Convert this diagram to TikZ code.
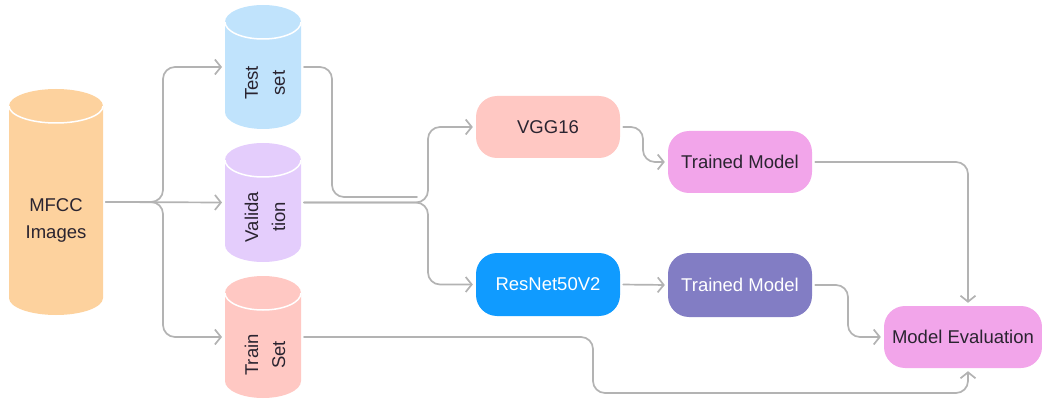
\documentclass[tikz,border=0pt]{standalone}
\usepackage{fontspec}
\setmainfont{Liberation Sans}
\usetikzlibrary{arrows.meta}

\definecolor{cMfcc}{HTML}{FDD29E}
\definecolor{cTest}{HTML}{C0E3FC}
\definecolor{cVal}{HTML}{E4CDFC}
\definecolor{cTrain}{HTML}{FFC8C3}
\definecolor{cVgg}{HTML}{FFC8C3}
\definecolor{cRes}{HTML}{109BFF}
\definecolor{cTm}{HTML}{F2A5EA}
\definecolor{cTmb}{HTML}{827DC4}
\definecolor{cLine}{HTML}{B3B3B3}
\definecolor{cInk}{HTML}{2A2430}

% database cylinder: name, centre x, top y, bottom y, half width, colour
\newcommand\dbcyl[6]{%
  \node[minimum width=2*#5, minimum height=#4-#3, inner sep=0pt, outer sep=0pt]
    (#1) at (#2,{(#3+#4)/2}) {};
  \fill[#6] ([yshift=-17pt]#1.north west) -- ([yshift=17pt]#1.south west)
    arc[start angle=180, end angle=360, x radius=#5pt, y radius=17pt]
    -- ([yshift=-17pt]#1.north east)
    arc[start angle=0, end angle=180, x radius=#5pt, y radius=17pt] -- cycle;
  \draw[white, line width=1.5pt] ([yshift=-17pt]#1.north west)
    arc[start angle=180, end angle=360, x radius=#5pt, y radius=17pt];
}

\tikzset{
  label text/.style={text=cInk, align=center, font=\fontsize{18.5}{27}\selectfont},
  cyltext/.style={label text, rotate=90},
  box/.style={rounded corners=21pt, minimum width=144pt, minimum height=62pt,
    inner sep=0pt, text=cInk, font=\fontsize{18.5}{27}\selectfont},
  conn/.style={draw=cLine, line width=1.7pt, rounded corners=12pt,
    shorten <=3pt, shorten >=3pt, line cap=round,
    -{Straight Barb[length=6pt, width=15pt]}},
  plain/.style={draw=cLine, line width=1.7pt, rounded corners=12pt,
    shorten <=3pt, line cap=round},
}

\begin{document}
\begin{tikzpicture}[x=1pt, y=-1pt]
\useasboundingbox (0,0) rectangle (1042,401);

% data stores
\dbcyl{mfcc}{56}{89}{315}{47}{cMfcc}
\node[label text] (mfcct) at (56,220) {MFCC\\Images};
\dbcyl{test}{263}{5}{129}{38}{cTest}
\node[cyltext] (testt) at (265,83) {Test\\set};
\dbcyl{val}{263}{143}{262}{38}{cVal}
\node[cyltext] (valt) at (265,217) {Valida\\tion};
\dbcyl{train}{263}{276}{398}{38}{cTrain}
\node[cyltext] (traint) at (265,355) {Train\\Set};

% models
\node[box, fill=cVgg] (vgg) at (548,127) {VGG16};
\node[box, fill=cRes, text=white, minimum height=63pt] (resnet) at (548,284.5) {ResNet50V2};
\node[box, fill=cTm] (tm1) at (740,162) {Trained Model};
\node[box, fill=cTmb, text=white, minimum height=64pt] (tm2) at (740,285) {Trained Model};
\node[box, fill=cTm, minimum width=158pt] (eval) at (963,337) {Model Evaluation};

\coordinate (tj) at (417,197);

% split of the data
\draw[conn] (mfcc.east) -- (163,202) |- (test.west);
\draw[conn] (mfcc.east) -- (val.west);
\draw[conn] (mfcc.east) -- (163,202) |- (train.west);

% validation and test data into the networks
\draw[plain] (test.east) -| (332,197) -- (tj);
\draw[conn] (val.east) -- (428,202.5) |- (vgg.west);
\draw[conn] (val.east) -- (428,202.5) |- (resnet.west);

% training
\draw[conn] (vgg.east) -- (643,127) |- (tm1.west);
\draw[conn] (resnet.east) -- (tm2.west);

% evaluation
\draw[conn] (tm1.east) -| ([xshift=5pt]eval.north);
\draw[conn] (tm2.east) -- (848,285) |- (eval.west);
\draw[conn] (train.east) -- (593,337) |- (968,393) -- ([xshift=5pt]eval.south);
\end{tikzpicture}
\end{document}
